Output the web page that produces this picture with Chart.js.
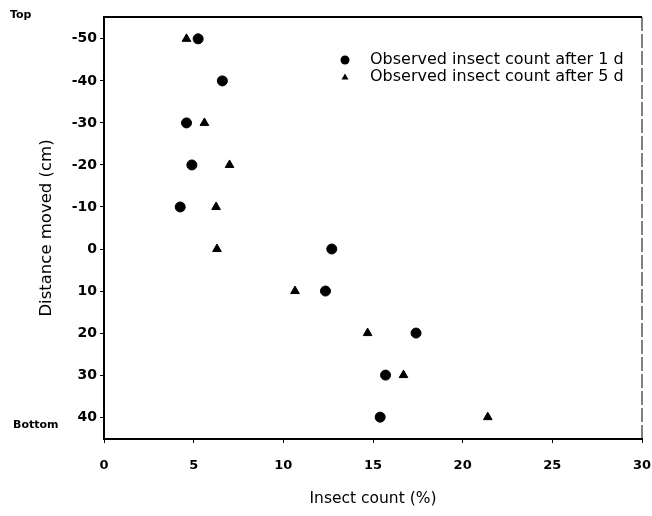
<!DOCTYPE html>
<html>
<head>
<meta charset="utf-8">
<script src="https://cdn.jsdelivr.net/npm/chart.js@4"></script>
<style>
  html, body { margin: 0; padding: 0; background: #fff; }
  #wrap { width: 652px; height: 516px; position: relative; }
</style>
</head>
<body>
<div id="wrap"><canvas id="chart"></canvas></div>
<script>
  // distance moved (cm), negative = towards top
  const distance1d = [-50, -40, -30, -20, -10, 0, 10, 20, 30, 40];
  const count1d    = [5.25, 6.6, 4.6, 4.9, 4.25, 12.7, 12.35, 17.4, 15.7, 15.4];

  const distance5d = [-50, -30, -20, -10, 0, 10, 20, 30, 40];
  const count5d    = [4.6, 5.6, 7.0, 6.25, 6.3, 10.65, 14.7, 16.7, 21.4];

  const xTicks = [0, 5, 10, 15, 20, 25, 30];
  const yTicks = [-50, -40, -30, -20, -10, 0, 10, 20, 30, 40];

  const labels = ["Observed insect count after 1 d", "Observed insect count after 5 d"];

  // the scanned type is wide, DejaVu fits it better than Arial
  const FONT = "'DejaVu Sans', sans-serif";

  const toPoints = (xs, ys) => xs.map((x, i) => ({ x, y: ys[i] }));

  // frame, top/bottom marks and the legend
  const extras = {
    id: "extras",
    afterDraw(chart) {
      const { ctx, chartArea: a } = chart;
      ctx.save();
      ctx.strokeStyle = "#000";
      ctx.lineWidth = 2;
      ctx.beginPath();
      ctx.moveTo(a.left, a.top);
      ctx.lineTo(a.right, a.top);
      ctx.stroke();
      ctx.lineWidth = 1;
      ctx.setLineDash([14, 3]);
      ctx.beginPath();
      ctx.moveTo(a.right, a.top);
      ctx.lineTo(a.right, a.bottom);
      ctx.stroke();
      ctx.setLineDash([]);

      ctx.fillStyle = "#000";
      ctx.font = "bold 11px " + FONT;
      ctx.textBaseline = "middle";
      ctx.textAlign = "left";
      ctx.fillText("Top", 10, 15);
      ctx.fillText("Bottom", 13, 425);

      // legend
      ctx.font = "16px " + FONT;
      const lx = 345, ly = 60, tx = 370;
      ctx.beginPath();
      ctx.arc(lx, ly, 4.5, 0, Math.PI * 2);
      ctx.fill();
      ctx.fillText(labels[0], tx, ly);
      const ty = ly + 17;
      ctx.beginPath();
      ctx.moveTo(lx, ty - 3.5);
      ctx.lineTo(lx + 3.5, ty + 2.5);
      ctx.lineTo(lx - 3.5, ty + 2.5);
      ctx.closePath();
      ctx.fill();
      ctx.fillText(labels[1], tx, ty);
      ctx.restore();
    }
  };

  new Chart(document.getElementById("chart"), {
    type: "scatter",
    data: {
      datasets: [
        {
          label: labels[0],
          data: toPoints(count1d, distance1d),
          pointStyle: "circle",
          pointRadius: 5,
          backgroundColor: "#000",
          borderColor: "#000",
        },
        {
          label: labels[1],
          data: toPoints(count5d, distance5d),
          pointStyle: "triangle",
          pointRadius: 5,
          backgroundColor: "#000",
          borderColor: "#000",
        },
      ],
    },
    options: {
      responsive: true,
      maintainAspectRatio: false,
      animation: false,
      layout: { padding: { top: 17, right: 10, left: 0, bottom: 0 } },
      plugins: { legend: { display: false }, tooltip: { enabled: false } },
      scales: {
        x: {
          type: "linear",
          min: 0, max: 30,
          afterBuildTicks: s => { s.ticks = xTicks.map(v => ({ value: v })); },
          afterFit: s => { s.height = 77; s.paddingLeft = 0; s.paddingRight = 0; },
          border: { display: true, color: "#000", width: 2 },
          grid: { drawOnChartArea: false, drawTicks: true, tickLength: 4, color: "#000" },
          ticks: { color: "#000", padding: 15, font: { family: FONT, size: 13, weight: "bold" } },
          title: { display: true, text: "Insect count (%)", color: "#000", padding: { top: 10, bottom: 8 },
                   font: { family: FONT, size: 15.5 } },
        },
        y: {
          type: "linear",
          reverse: true,
          min: -55.2, max: 45.2,
          afterBuildTicks: s => { s.ticks = yTicks.map(v => ({ value: v })); },
          afterFit: s => { s.width = 104; },
          border: { display: true, color: "#000", width: 2 },
          grid: { drawOnChartArea: false, drawTicks: true, tickLength: 4, color: "#000" },
          ticks: { color: "#000", padding: 3, font: { family: FONT, size: 14, weight: "bold" } },
          title: { display: true, text: "Distance moved (cm)", color: "#000", padding: { top: 37, bottom: 4 },
                   font: { family: FONT, size: 16.5 } },
        },
      },
    },
    plugins: [extras],
  });
</script>
</body>
</html>
